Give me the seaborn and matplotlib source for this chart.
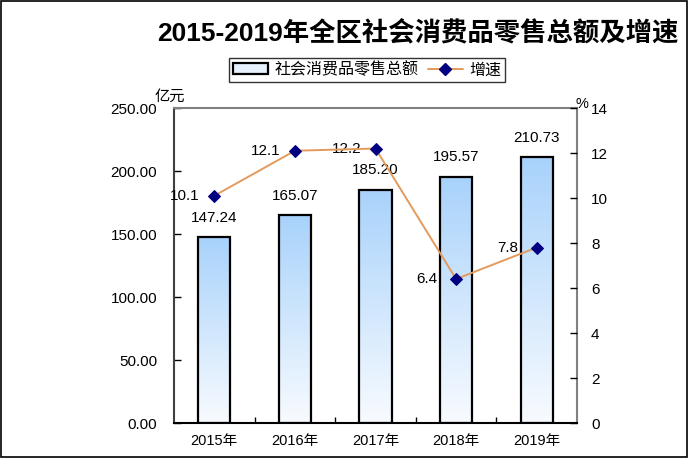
import numpy as np
import pandas as pd
import matplotlib
matplotlib.use("Agg")
import matplotlib.pyplot as plt
from matplotlib.colors import LinearSegmentedColormap
from matplotlib.patches import Rectangle
from matplotlib.lines import Line2D
import seaborn as sns

years = ["2015年", "2016年", "2017年", "2018年", "2019年"]
retail_total = [147.24, 165.07, 185.20, 195.57, 210.73]
growth = [10.1, 12.1, 12.2, 6.4, 7.8]
left_ticks = [0, 50, 100, 150, 200, 250]
right_ticks = [0, 2, 4, 6, 8, 10, 12, 14]

sns.set_theme(style="white")
FONT = ["Liberation Sans", "Noto Sans CJK SC", "DejaVu Sans"]
plt.rcParams["font.family"] = FONT
plt.rcParams["text.color"] = "black"

df = pd.DataFrame({"year": years, "total": retail_total, "growth": growth})

fig = plt.figure(figsize=(6.93, 4.61), dpi=100)
ax = fig.add_axes([174 / 693, 1 - 423 / 461, (577 - 174) / 693, (423 - 108) / 461])

sns.barplot(data=df, x="year", y="total", ax=ax, width=0.4,
            color="white", edgecolor="black", linewidth=1.6, zorder=3)

cmap = LinearSegmentedColormap.from_list("g", ["#F8FBFF", "#A8D2FB"])
grad = np.linspace(0, 1, 256).reshape(-1, 1)
for p in ax.patches:
    p.set_facecolor("none")
    x0, y0 = p.get_x(), p.get_y()
    w, h = p.get_width(), p.get_height()
    im = ax.imshow(grad, extent=[x0, x0 + w, y0, y0 + h], origin="lower",
                   aspect="auto", cmap=cmap, zorder=2.5, interpolation="bilinear")
    im.set_clip_path(p)

ax.set_xlim(-0.5, 4.5)
ax.set_ylim(0, 250)
ax.set_yticks(left_ticks)
ax.set_yticklabels([f"{v:.2f}" for v in left_ticks])
ax.set_xlabel("")
ax.set_ylabel("")
ax.set_xticks(range(len(years)))
ax.set_xticklabels(years)
ax.tick_params(axis="x", length=0, labelsize=10.5, pad=8, colors="black")
ax.tick_params(axis="y", direction="in", length=5, width=1, labelsize=11,
               pad=12, colors="black", left=True)
ax.set_xticks([0.5, 1.5, 2.5, 3.5], minor=True)
ax.tick_params(axis="x", which="minor", direction="in", length=4, width=1,
               bottom=True, color="black")

for s in ["top", "right"]:
    ax.spines[s].set_color("#808080")
    ax.spines[s].set_linewidth(1.5)
ax.spines["left"].set_color("#404040")
ax.spines["left"].set_linewidth(1.5)
ax.spines["bottom"].set_color("black")
ax.spines["bottom"].set_linewidth(1.5)

for i, v in enumerate(retail_total):
    ax.annotate(f"{v:.2f}", (i, v), xytext=(0, 9), textcoords="offset points",
                ha="center", va="bottom", fontsize=11, color="black")

ax2 = ax.twinx()
line_color = "#E39A5C"
sns.lineplot(data=df, x="year", y="growth", ax=ax2, color=line_color,
             linewidth=1.4, marker="D", markersize=6,
             markerfacecolor="#000080", markeredgecolor="#000080", zorder=5)
ax2.set_xlim(-0.5, 4.5)
ax2.set_ylim(0, 14)
ax2.set_yticks(right_ticks)
ax2.set_ylabel("")
ax2.set_xlabel("")
ax2.tick_params(axis="y", direction="in", length=5, width=1, labelsize=11,
                pad=10, colors="black", right=True)
for s in ax2.spines.values():
    s.set_visible(False)
ax2.grid(False)

for i, v in enumerate(growth):
    ax2.annotate(f"{v:.1f}", (i, v), xytext=(-21, 0), textcoords="offset points",
                 ha="center", va="center", fontsize=11, color="black")

fig.text(170 / 693, 1 - 96 / 461, "亿元", ha="center", va="center", fontsize=11,
         family=["Noto Sans CJK SC", "DejaVu Sans"])
fig.text(582 / 693, 1 - 104 / 461, "%", ha="center", va="center", fontsize=10.5)

fig.text(418 / 693, 1 - 33 / 461, "2015-2019年全区社会消费品零售总额及增速",
         ha="center", va="center", fontsize=19, fontweight="bold", color="black",
         family=["Liberation Sans Narrow", "Liberation Sans", "Noto Sans CJK SC"])

h_bar = Rectangle((0, 0), 1, 1, facecolor="#E6F1FD", edgecolor="black", linewidth=1.6)
h_line = Line2D([0], [0], color=line_color, linewidth=1.4, marker="D",
                markersize=6, markerfacecolor="#000080", markeredgecolor="#000080")
leg = fig.legend([h_bar, h_line], ["社会消费品零售总额", "增速"],
                 loc="center", bbox_to_anchor=(367 / 693, 1 - 70 / 461),
                 ncol=2, frameon=True, fancybox=False,
                 handlelength=2.2, handletextpad=0.4, columnspacing=0.6,
                 borderpad=0.2, prop={"family": ["Noto Sans CJK SC", "DejaVu Sans"], "size": 11.5})
leg.get_frame().set_edgecolor("black")
leg.get_frame().set_linewidth(1.0)
for t in leg.get_texts():
    t.set_color("black")

fig.patches.append(Rectangle((1 / 693, 4 / 461), 686 / 693, 456 / 461,
                             transform=fig.transFigure, fill=False,
                             edgecolor="black", linewidth=1.2))

fig.savefig("out.png", dpi=100)
